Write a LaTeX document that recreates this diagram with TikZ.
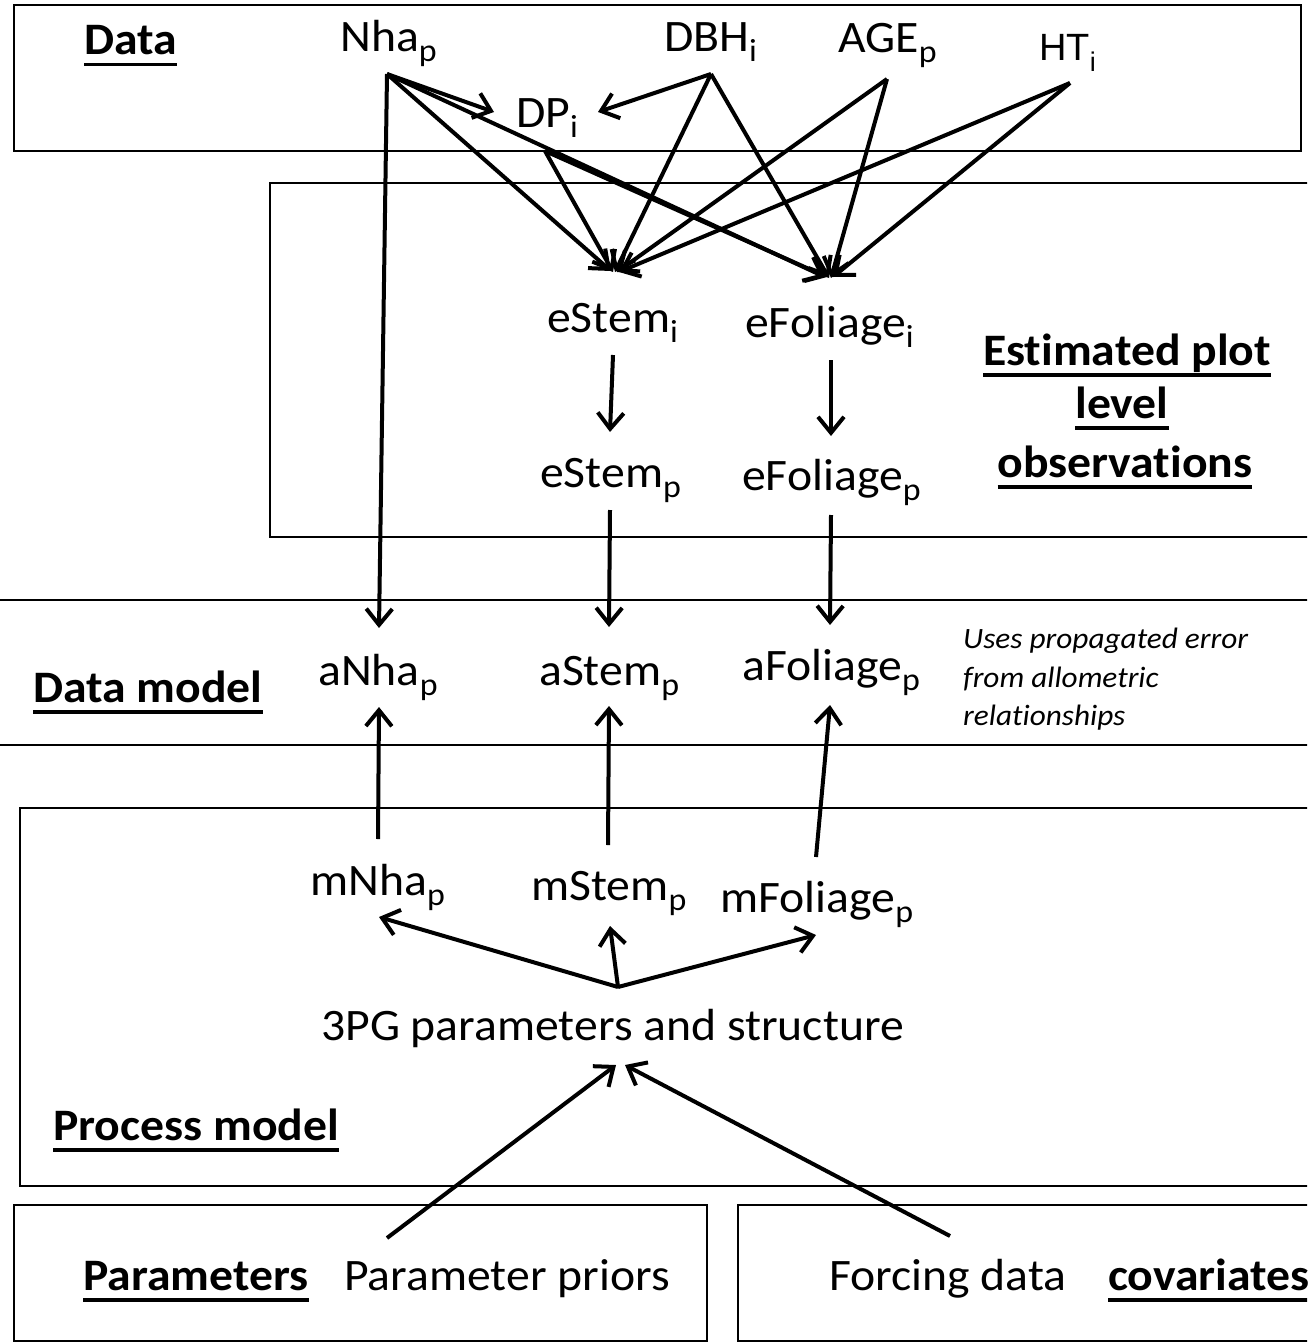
\documentclass[tikz,border=0pt]{standalone}
\usepackage{fontspec}
\setmainfont[Ligatures=NoCommon]{Carlito}
\newfontfamily\arialf{Liberation Sans}
\usepackage{graphicx}
\usetikzlibrary{arrows.meta}
\newcommand\sx[1]{\scalebox{1.06}[1]{#1}}
\newcommand\sbs[1]{\raisebox{-10pt}{\fontsize{32}{32}\selectfont #1}}
\newcommand\ulb[1]{\setbox0\hbox{\bfseries #1}\rlap{\rule[-11.5pt]{\wd0}{3.5pt}}\box0}
\begin{document}
\begin{tikzpicture}[x=1pt,y=-1pt,
  lbl/.style={inner sep=0pt, anchor=base west, font=\fontsize{45}{45}\selectfont},
  notetxt/.style={inner sep=0pt, anchor=base west, font=\itshape\fontsize{29.5}{29.5}\selectfont},
  frame/.style={draw=black, line width=2.2pt},
  arr/.style={line width=4pt, -{Straight Barb[length=16pt,width=26pt]}}]
\useasboundingbox (0,0) rectangle (1307,1343);
\clip (0,0) rectangle (1307,1343);
% frames
\draw[frame] (14,5) rectangle (1301,151);
\draw[frame] (270,183) rectangle (1340,537);
\draw[frame] (-10,600) -- (1340,600);
\draw[frame] (-10,745) -- (1340,745);
\draw[frame] (20,808) rectangle (1340,1186);
\draw[frame] (14,1205) rectangle (707,1341);
\draw[frame] (738,1205) rectangle (1340,1341);
% labels
\node[lbl] (data) at (84,55) {\sx{\ulb{Data}}};
\node[lbl] (nha) at (340,52) {\sx{Nha\sbs{p}}};
\node[lbl] (dbh) at (664,52) {\sx{DBH\sbs{i}}};
\node[lbl] (age) at (838,53) {\sx{AGE\sbs{p}}};
\node[lbl, font=\arialf\fontsize{38}{38}\selectfont] (ht) at (1039,61) {HT\raisebox{-11pt}{\fontsize{27}{27}\selectfont i}};
\node[lbl] (dp) at (516,128) {\sx{DP\sbs{i}}};
\node[lbl] (esi) at (547,332) {\sx{eStem\sbs{i}}};
\node[lbl] (efi) at (745,337) {\sx{eFoliage\sbs{i}}};
\node[lbl] (esp) at (540,487) {\sx{eStem\sbs{p}}};
\node[lbl] (efp) at (742,490) {\sx{eFoliage\sbs{p}}};
\node[lbl, anchor=base] (est1) at (1127,365) {\sx{\ulb{Estimated plot}}};
\node[lbl, anchor=base] (est2) at (1122,418) {\sx{\ulb{level}}};
\node[lbl, anchor=base] (est3) at (1125,477) {\sx{\ulb{observations}}};
\node[lbl] (anha) at (318,685) {\sx{aNha\sbs{p}}};
\node[lbl] (ast) at (539,685) {\sx{aStem\sbs{p}}};
\node[lbl] (afo) at (742,680) {\sx{aFoliage\sbs{p}}};
\node[lbl] (dm) at (33,702) {\sx{\ulb{Data model}}};
\node[notetxt] (n1) at (963,648) {\sx{Uses propagated error}};
\node[notetxt] (n2) at (963,687) {\sx{from allometric}};
\node[notetxt] (n3) at (963,725) {\sx{relationships}};
\node[lbl] (mnha) at (310,895) {\sx{mNha\sbs{p}}};
\node[lbl] (mst) at (531,900) {\sx{mStem\sbs{p}}};
\node[lbl] (mfo) at (720,912) {\sx{mFoliage\sbs{p}}};
\node[lbl] (pg) at (321,1040) {\sx{3PG parameters and structure}};
\node[lbl] (pm) at (53,1140) {\sx{\ulb{Process model}}};
\node[lbl] (par) at (83,1290) {\sx{\ulb{Parameters}}};
\node[lbl] (pp) at (344,1290) {\sx{Parameter priors}};
\node[lbl] (fd) at (829,1290) {\sx{Forcing data}};
\node[lbl] (cov) at (1108,1290) {\sx{\ulb{covariates}}};
% connector end points
\coordinate (nhaO) at (387,74);
\coordinate (dbhO) at (711,74);
\coordinate (ageO) at (887,79);
\coordinate (htO) at (1070,83);
\coordinate (dpO) at (545,151);
\coordinate (dpT1) at (494,112);
\coordinate (dpT2) at (598,112);
\coordinate (esT1) at (611,271);
\coordinate (esT2) at (613,272);
\coordinate (esT3) at (615,272);
\coordinate (esT4) at (617,272);
\coordinate (esT5) at (619,272);
\coordinate (efT1) at (825,277);
\coordinate (efT2) at (827,277);
\coordinate (efT3) at (829,278);
\coordinate (efT4) at (831,278);
\coordinate (efT5) at (833,277);
\coordinate (anhaT) at (379,628);
\coordinate (esiB) at (613,355);
\coordinate (espT) at (610,432);
\coordinate (efiB) at (831,360);
\coordinate (efpT) at (831,436);
\coordinate (espB) at (610,510);
\coordinate (astT) at (609,627);
\coordinate (efpB) at (831,515);
\coordinate (afoT) at (830,625);
\coordinate (anhaB) at (379,707);
\coordinate (astB) at (609,706);
\coordinate (afoB) at (830,705);
\coordinate (mnhaT) at (378,839);
\coordinate (mstT) at (608,845);
\coordinate (mfoT) at (816,857);
\coordinate (pgO) at (618,987);
\coordinate (mnhaB) at (379,917);
\coordinate (mstB) at (610,926);
\coordinate (mfoB) at (816,935);
\coordinate (pgB1) at (616,1065);
\coordinate (pgB2) at (625,1065);
\coordinate (ppO) at (387,1238);
\coordinate (fdO) at (950,1236);
% connectors
\draw[arr] (nhaO) -- (dpT1);
\draw[arr] (dbhO) -- (dpT2);
\draw[arr] (nhaO) -- (esT1);
\draw[arr] (dpO) -- (esT2);
\draw[arr] (dbhO) -- (esT3);
\draw[arr] (ageO) -- (esT4);
\draw[arr] (htO) -- (esT5);
\draw[arr] (nhaO) -- (efT1);
\draw[arr] (dpO) -- (efT2);
\draw[arr] (dbhO) -- (efT3);
\draw[arr] (ageO) -- (efT4);
\draw[arr] (htO) -- (efT5);
\draw[arr] (nhaO) -- (anhaT);
\draw[arr] (esiB) -- (espT);
\draw[arr] (efiB) -- (efpT);
\draw[arr] (espB) -- (astT);
\draw[arr] (efpB) -- (afoT);
\draw[arr] (mnhaT) -- (anhaB);
\draw[arr] (mstT) -- (astB);
\draw[arr] (mfoT) -- (afoB);
\draw[arr] (pgO) -- (mnhaB);
\draw[arr] (pgO) -- (mstB);
\draw[arr] (pgO) -- (mfoB);
\draw[arr] (ppO) -- (pgB1);
\draw[arr] (fdO) -- (pgB2);
\end{tikzpicture}
\end{document}
